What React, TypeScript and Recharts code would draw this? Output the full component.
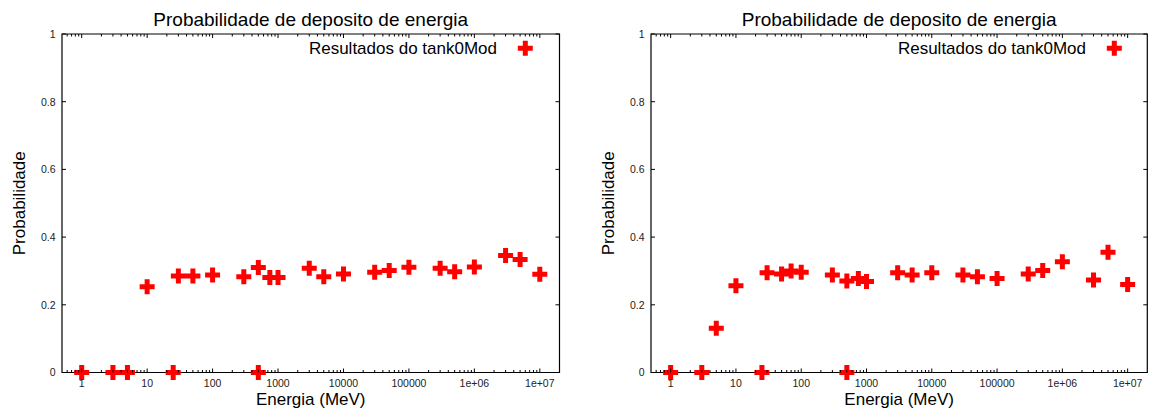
import React from "react";
import { ReferenceArea, Scatter, ScatterChart, XAxis, YAxis } from "recharts";

// energias simuladas (MeV) e probabilidade de deposito - painel esquerdo
const energiesLeft = [
  1, 3, 5, 10, 25, 30, 50, 100, 300, 500, 500, 750, 1000, 3000, 5000, 10000, 30000, 50000,
  1e5, 3e5, 5e5, 1e6, 3e6, 5e6, 1e7,
];
const probLeft = [
  0, 0, 0, 0.253, 0, 0.285, 0.285, 0.288, 0.283, 0.31, 0, 0.281, 0.281, 0.308, 0.283, 0.291,
  0.296, 0.301, 0.311, 0.308, 0.298, 0.312, 0.346, 0.334, 0.29,
];

// painel direito
const energiesRight = [
  1, 3, 5, 10, 25, 30, 50, 70, 100, 300, 500, 500, 750, 1000, 3000, 5000, 10000, 30000, 50000,
  1e5, 3e5, 5e5, 1e6, 3e6, 5e6, 1e7,
];
const probRight = [
  0, 0, 0.131, 0.256, 0, 0.295, 0.291, 0.3, 0.296, 0.288, 0.27, 0, 0.278, 0.269, 0.295, 0.288,
  0.295, 0.288, 0.283, 0.278, 0.291, 0.301, 0.327, 0.273, 0.355, 0.26,
];

const energyTicks = [1, 10, 100, 1000, 10000, 100000, 1e6, 1e7];
const energyTickLabels = ["1", "10", "100", "1000", "10000", "100000", "1e+06", "1e+07"];
const probTicks = [0, 0.2, 0.4, 0.6, 0.8, 1];
const probTickLabels = ["0", "0.2", "0.4", "0.6", "0.8", "1"];

const X_DOMAIN: [number, number] = [0.5, 2e7];
const TITLE = "Probabilidade de deposito de energia";
const LEGEND = "Resultados do tank0Mod";

// minor ticks do eixo log (2..9 por decada)
const minorTicks: number[] = [];
[0.1, ...energyTicks].forEach((d) => {
  for (let m = 2; m <= 9; m++) {
    const v = d * m;
    if (v > X_DOMAIN[0] && v < X_DOMAIN[1]) minorTicks.push(v);
  }
});
const allXTicks = [...energyTicks, ...minorTicks].sort((a, b) => a - b);

const FONT = "'Liberation Sans', Arial, Helvetica, sans-serif";
const HEIGHT = 412;
const TOP = 34;
const BOTTOM = 372.5;
const LEFT = 62;

function plusPath(cx: number, cy: number) {
  const a = 7.5;
  const t = 2.5;
  return `M${cx - t},${cy - a}h${2 * t}v${a - t}h${a - t}v${2 * t}h${-(a - t)}v${a - t}h${-2 * t}v${-(a - t)}h${-(a - t)}v${-2 * t}h${a - t}z`;
}

function PlusShape(props: any) {
  const { cx, cy } = props;
  if (cx == null || cy == null) return null;
  return <path d={plusPath(cx, cy)} fill="#ff0000" />;
}

function Panel({ energies, probs, width, marginRight }: { energies: number[]; probs: number[]; width: number; marginRight: number }) {
  const data = energies.map((e, i) => ({ energy: e, prob: probs[i] }));
  const right = width - marginRight;
  const center = (LEFT + right) / 2;

  const XTick = (p: any) => {
    const { x, payload } = p;
    const idx = energyTicks.indexOf(payload.value);
    const len = idx >= 0 ? 4 : 2.5;
    return (
      <g>
        <line x1={x} x2={x} y1={BOTTOM} y2={BOTTOM - len} stroke="#000" strokeWidth={1} />
        <line x1={x} x2={x} y1={TOP} y2={TOP + len} stroke="#000" strokeWidth={1} />
        {idx >= 0 && (
          <text x={x} y={BOTTOM + 14.8} textAnchor="middle" fontSize={10.5} fill="#222" fontFamily={FONT}>
            {energyTickLabels[idx]}
          </text>
        )}
      </g>
    );
  };

  const YTick = (p: any) => {
    const { y, payload } = p;
    const idx = probTicks.indexOf(payload.value);
    return (
      <g>
        <line x1={LEFT} x2={LEFT + 4} y1={y} y2={y} stroke="#000" strokeWidth={1} />
        <line x1={right} x2={right - 4} y1={y} y2={y} stroke="#000" strokeWidth={1} />
        <text x={LEFT - 6.5} y={y + 3.8} textAnchor="end" fontSize={10.5} fill="#222" fontFamily={FONT}>
          {probTickLabels[idx]}
        </text>
      </g>
    );
  };

  return (
    <div style={{ position: "relative", width, height: HEIGHT }}>
      <ScatterChart width={width} height={HEIGHT} margin={{ top: TOP, right: marginRight, bottom: 0, left: 0 }}>
        <XAxis
          dataKey="energy"
          type="number"
          scale="log"
          domain={X_DOMAIN}
          ticks={allXTicks}
          interval={0}
          tick={XTick}
          tickLine={false}
          axisLine={false}
          height={HEIGHT - BOTTOM}
        />
        <YAxis
          dataKey="prob"
          type="number"
          domain={[0, 1]}
          ticks={probTicks}
          interval={0}
          tick={YTick}
          tickLine={false}
          axisLine={false}
          width={LEFT}
        />
        <ReferenceArea
          x1={X_DOMAIN[0]}
          x2={X_DOMAIN[1]}
          y1={0}
          y2={1}
          fill="none"
          fillOpacity={0}
          stroke="#000"
          strokeWidth={1.2}
          ifOverflow="visible"
        />
        <Scatter data={data} shape={PlusShape} isAnimationActive={false} />
      </ScatterChart>
      <svg
        width={width}
        height={HEIGHT}
        style={{ position: "absolute", left: 0, top: 0, pointerEvents: "none" }}
        fontFamily={FONT}
      >
        <text x={center} y={26} textAnchor="middle" fontSize={19} fill="#000">
          {TITLE}
        </text>
        <text x={center} y={404.5} textAnchor="middle" fontSize={17} fill="#000">
          Energia (MeV)
        </text>
        <text x={24.5} y={(TOP + BOTTOM) / 2} textAnchor="middle" fontSize={17} fill="#000" transform={`rotate(-90 24.5 ${(TOP + BOTTOM) / 2})`}>
          Probabilidade
        </text>
        <text x={LEFT + 435} y={54} textAnchor="end" fontSize={17} fill="#000">
          {LEGEND}
        </text>
        <path d={plusPath(LEFT + 463.3, 48.3)} fill="#ff0000" />
      </svg>
    </div>
  );
}

export default function App() {
  return (
    <div style={{ position: "absolute", left: 0, top: 0, width: 1149, height: HEIGHT, background: "#fff" }}>
      <div style={{ position: "absolute", left: 0, top: 0 }}>
        <Panel energies={energiesLeft} probs={probLeft} width={575} marginRight={15.5} />
      </div>
      <div style={{ position: "absolute", left: 589, top: 0 }}>
        <Panel energies={energiesRight} probs={probRight} width={560} marginRight={1.7} />
      </div>
    </div>
  );
}
